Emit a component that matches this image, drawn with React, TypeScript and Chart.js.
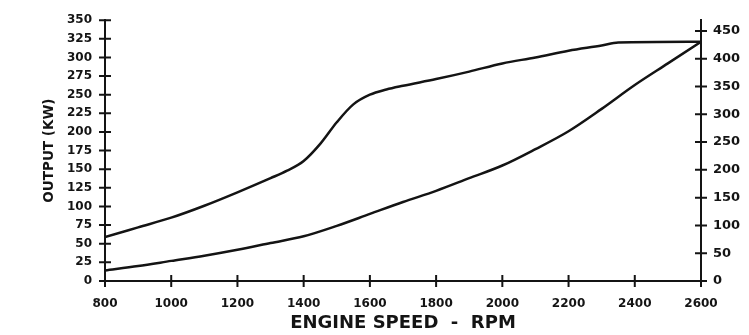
import React, { useEffect, useRef } from "react";
import { Chart, registerables } from "chart.js";

Chart.register(...registerables);

// Engine speed (RPM) sample points, upper curve (max output)
const rpmUpper = [800, 900, 1000, 1100, 1200, 1300, 1350, 1400, 1450, 1500, 1550, 1600, 1650, 1700, 1800, 1900, 2000, 2100, 2200, 2300, 2350, 2600];
const kwUpper = [59, 72, 85, 101, 119, 138, 148, 161, 184, 213, 237, 250, 257, 262, 271, 281, 292, 300, 309, 316, 320, 321];

// Lower curve (propeller load)
const rpmLower = [800, 900, 1000, 1100, 1200, 1300, 1400, 1500, 1600, 1700, 1800, 1900, 2000, 2100, 2200, 2300, 2400, 2500, 2600];
const kwLower = [14, 20, 27, 34, 42, 51, 60, 74, 90, 106, 121, 138, 155, 177, 201, 231, 263, 292, 321];

const rpmMin = 800;
const rpmMax = 2600;
const rpmStep = 200;
const kwMin = 0;
const kwMax = 350;
const kwStep = 25;
const hpPerKw = 1.341;
const hpStep = 50;

const xTitle = "ENGINE SPEED  -  RPM";
const yTitle = "OUTPUT (KW)";

const INK = "#141414";

const tickMarks = {
  id: "tickMarks",
  afterDraw(chart: any) {
    const { ctx, chartArea, scales } = chart;
    const L = 6;
    ctx.save();
    ctx.strokeStyle = INK;
    ctx.lineWidth = 2;
    ctx.beginPath();
    scales.x.ticks.forEach((t: any) => {
      const px = scales.x.getPixelForValue(t.value);
      ctx.moveTo(px, chartArea.bottom - L);
      ctx.lineTo(px, chartArea.bottom + L);
    });
    scales.y.ticks.forEach((t: any) => {
      const py = scales.y.getPixelForValue(t.value);
      ctx.moveTo(chartArea.left - L, py);
      ctx.lineTo(chartArea.left + L, py);
    });
    scales.y2.ticks.forEach((t: any) => {
      const py = scales.y2.getPixelForValue(t.value);
      ctx.moveTo(chartArea.right - L, py);
      ctx.lineTo(chartArea.right + L, py);
    });
    ctx.stroke();
    ctx.restore();
  },
};

const plain = (v: any) => String(v);

export default function App() {
  const ref = useRef<HTMLCanvasElement | null>(null);

  useEffect(() => {
    if (!ref.current) return;
    Chart.defaults.font.family = "'DejaVu Sans', sans-serif";
    Chart.defaults.color = INK;

    const upper = rpmUpper.map((r, i) => ({ x: r, y: kwUpper[i] }));
    const lower = rpmLower.map((r, i) => ({ x: r, y: kwLower[i] }));

    const chart = new Chart(ref.current, {
      type: "line",
      data: {
        datasets: [
          {
            label: "Max output",
            data: upper,
            borderColor: INK,
            borderWidth: 2.5,
            pointRadius: 0,
            cubicInterpolationMode: "monotone",
            fill: false,
            yAxisID: "y",
          },
          {
            label: "Propeller",
            data: lower,
            borderColor: INK,
            borderWidth: 2.5,
            pointRadius: 0,
            cubicInterpolationMode: "monotone",
            fill: false,
            yAxisID: "y",
          },
        ],
      },
      options: {
        responsive: false,
        animation: false,
        layout: { padding: { top: 12, left: 0, right: 0, bottom: 0 } },
        plugins: { legend: { display: false }, tooltip: { enabled: false } },
        scales: {
          x: {
            type: "linear",
            min: rpmMin,
            max: rpmMax,
            grid: { display: false, drawTicks: false },
            border: { display: true, color: INK, width: 2 },
            ticks: {
              stepSize: rpmStep,
              padding: 16,
              maxRotation: 0,
              autoSkip: false,
              font: { size: 12, weight: "bold" },
              color: INK,
              callback: plain,
            },
            title: {
              display: true,
              text: xTitle,
              font: { size: 18, weight: "bold" },
              color: INK,
              padding: { top: 0, bottom: 1 },
            },
            afterFit: (s: any) => {
              s.height = 54;
            },
          },
          y: {
            type: "linear",
            position: "left",
            min: kwMin,
            max: kwMax,
            grid: { display: false, drawTicks: false },
            border: { display: true, color: INK, width: 2 },
            ticks: {
              stepSize: kwStep,
              padding: 13,
              autoSkip: false,
              font: { size: 12, weight: "bold" },
              color: INK,
              callback: plain,
            },
            title: {
              display: true,
              text: yTitle,
              font: { size: 13.5, weight: "bold" },
              color: INK,
              padding: { top: 41, bottom: 0 },
            },
            afterFit: (s: any) => {
              s.width = 105;
            },
          },
          y2: {
            type: "linear",
            position: "right",
            min: kwMin * hpPerKw,
            max: kwMax * hpPerKw,
            grid: { display: false, drawTicks: false },
            border: { display: true, color: INK, width: 2 },
            ticks: {
              stepSize: hpStep,
              includeBounds: false,
              padding: 12,
              autoSkip: false,
              font: { size: 13, weight: "bold" },
              color: INK,
              callback: plain,
            },
            afterFit: (s: any) => {
              s.width = 48;
            },
          },
        },
      },
      plugins: [tickMarks],
    });

    return () => chart.destroy();
  }, []);

  return (
    <div style={{ position: "fixed", left: 0, top: 0, width: 749, height: 335, background: "#fff" }}>
      <canvas ref={ref} width={749} height={335} style={{ display: "block", width: 749, height: 335 }} />
    </div>
  );
}
